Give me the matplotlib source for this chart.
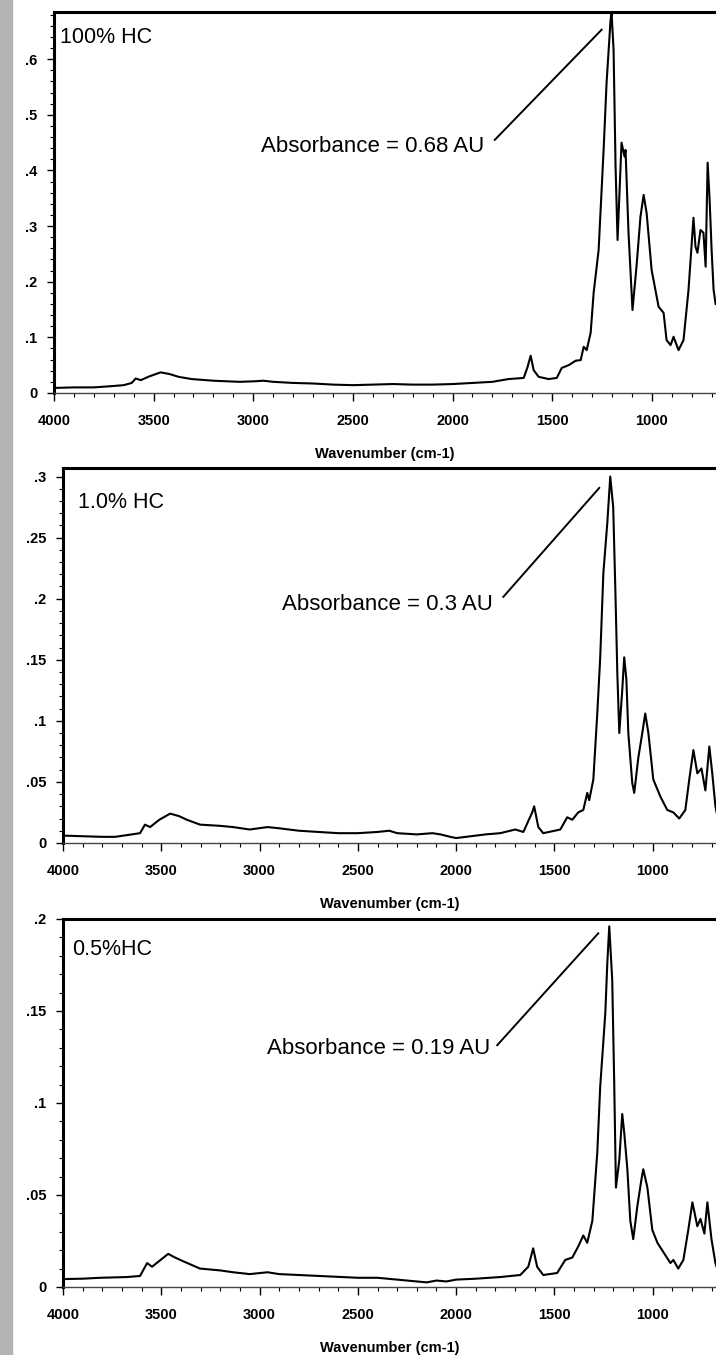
import matplotlib
matplotlib.use("Agg")
import matplotlib.pyplot as plt
from matplotlib.ticker import MultipleLocator, FuncFormatter
from matplotlib.patches import Rectangle

plt.rcParams["font.family"] = ["Liberation Sans", "DejaVu Sans"]

# ── Data ────────────────────────────────────────────────────
# (wavenumber cm-1, absorbance AU)
spec_100 = [
    (4000, .009), (3900, .010), (3800, .010), (3720, .012), (3650, .014),
    (3610, .018), (3590, .026), (3565, .023), (3520, .030), (3465, .037),
    (3420, .034), (3375, .029), (3310, .025), (3200, .022), (3070, .020),
    (2990, .021), (2950, .022), (2900, .020), (2800, .018), (2700, .017),
    (2600, .015), (2500, .014), (2400, .015), (2300, .016), (2200, .015),
    (2100, .015), (2000, .016), (1900, .018), (1800, .020), (1768, .022),
    (1718, .025), (1643, .027), (1625, .045), (1608, .067), (1593, .041),
    (1568, .029), (1518, .025), (1477, .027), (1452, .045), (1417, .050),
    (1382, .058), (1357, .059), (1342, .083), (1327, .077), (1307, .108),
    (1292, .180), (1267, .257), (1242, .437), (1227, .558), (1207, .671),
    (1202, .683), (1192, .617), (1182, .407), (1172, .275), (1157, .407),
    (1152, .450), (1137, .425), (1132, .437), (1117, .288), (1097, .149),
    (1077, .227), (1057, .317), (1041, .356), (1026, .323), (1001, .221),
    (966, .155), (941, .144), (926, .095), (906, .086), (891, .101),
    (866, .077), (841, .095), (816, .185), (801, .263), (791, .315),
    (781, .263), (771, .252), (756, .293), (741, .288), (730, .227),
    (720, .414), (710, .347), (700, .257), (690, .185), (680, .160),
]

spec_10 = [
    (4000, .006), (3900, .0055), (3800, .005), (3735, .005), (3650, .007),
    (3608, .008), (3583, .015), (3557, .013), (3510, .019), (3455, .024),
    (3410, .022), (3370, .019), (3303, .015), (3200, .014), (3135, .013),
    (3050, .011), (2960, .013), (2900, .012), (2800, .010), (2700, .009),
    (2600, .008), (2500, .008), (2400, .009), (2340, .010), (2300, .008),
    (2200, .007), (2120, .008), (2080, .007), (2030, .005), (2000, .004),
    (1950, .005), (1900, .006), (1850, .007), (1776, .008), (1699, .011),
    (1658, .009), (1613, .025), (1603, .030), (1582, .013), (1557, .008),
    (1470, .011), (1435, .021), (1409, .019), (1379, .025), (1353, .027),
    (1333, .041), (1323, .035), (1302, .052), (1282, .106), (1267, .152),
    (1251, .221), (1231, .262), (1216, .300), (1201, .275), (1190, .207),
    (1180, .139), (1170, .090), (1155, .125), (1145, .152), (1134, .134),
    (1124, .090), (1104, .049), (1094, .041), (1073, .070), (1053, .090),
    (1038, .106), (1022, .090), (997, .052), (961, .038), (926, .027),
    (895, .025), (865, .020), (834, .027), (814, .052), (793, .076),
    (773, .057), (752, .061), (732, .043), (712, .079), (697, .057),
    (681, .030), (675, .025),
]

spec_05 = [
    (4000, .0043), (3900, .0045), (3812, .005), (3674, .0054), (3608, .006),
    (3572, .013), (3547, .011), (3500, .015), (3465, .018), (3430, .016),
    (3389, .014), (3303, .010), (3200, .009), (3135, .008), (3050, .007),
    (2960, .008), (2900, .007), (2800, .0065), (2700, .006), (2600, .0055),
    (2500, .005), (2400, .005), (2300, .004), (2200, .003), (2150, .0025),
    (2100, .0035), (2050, .003), (2000, .004), (1900, .0045), (1776, .0054),
    (1674, .0065), (1633, .011), (1608, .021), (1588, .011), (1557, .0065),
    (1486, .0076), (1445, .0147), (1409, .016), (1379, .022), (1353, .028),
    (1333, .024), (1307, .036), (1282, .073), (1267, .109), (1241, .149),
    (1231, .176), (1221, .196), (1206, .167), (1196, .112), (1187, .054),
    (1170, .069), (1155, .094), (1145, .084), (1129, .064), (1114, .036),
    (1099, .026), (1078, .044), (1058, .058), (1048, .064), (1027, .054),
    (1002, .031), (976, .024), (946, .019), (910, .013), (895, .0147),
    (870, .010), (844, .0147), (819, .031), (798, .046), (773, .033),
    (757, .037), (737, .029), (722, .046), (701, .026), (681, .013),
    (675, .011),
]

sample_labels = ["100% HC", "1.0% HC", "0.5%HC"]
peak_texts = ["Absorbance = 0.68 AU", "Absorbance = 0.3 AU", "Absorbance = 0.19 AU"]
y_tops = [0.685, 0.307, 0.2]
y_majors = [0.1, 0.05, 0.05]
y_minors = [0.02, 0.01, 0.01]
# annotation leader lines: (low wn, low A) -> (high wn, high A), text anchor
leader_lines = [((1788, .455), (1252, .653)),
                ((1760, .2015), (1272, .2907)),
                ((1791, .1314), (1277, .1922))]
text_anchors = [(1839, .443), (1811, .195), (1827, .1295)]
x_ticks = [4000, 3500, 3000, 2500, 2000, 1500, 1000]

# axes rectangles (figure fraction): left, bottom, width, height
AX_RECTS = [(0.0754, 0.710, 0.9246, 0.2812),
            (0.0880, 0.3779, 0.9120, 0.2767),
            (0.0880, 0.0502, 0.9120, 0.2716)]
LABEL_POS = [(0.009, 0.934), (0.023, 0.909), (0.014, 0.916)]


def yfmt(v, _):
    if abs(v) < 1e-9:
        return "0"
    s = f"{v:.2f}".rstrip("0")
    return s[1:] if s.startswith("0") else s


fig = plt.figure(figsize=(7.16, 13.55), dpi=100)
# grey scanned strip down the left edge
fig.patches.append(Rectangle((0, 0), 0.017, 1, transform=fig.transFigure,
                             color="#b4b4b4", zorder=0))

for i, spec in enumerate([spec_100, spec_10, spec_05]):
    ax = fig.add_axes(AX_RECTS[i])
    wn = [p[0] for p in spec]
    ab = [p[1] for p in spec]
    ax.plot(wn, ab, color="black", lw=1.5)

    ax.set_xlim(4000, 678)
    ax.set_ylim(0, y_tops[i])
    ax.set_xticks(x_ticks)
    ax.xaxis.set_minor_locator(MultipleLocator(100))
    ax.yaxis.set_major_locator(MultipleLocator(y_majors[i]))
    ax.yaxis.set_minor_locator(MultipleLocator(y_minors[i]))
    ax.yaxis.set_major_formatter(FuncFormatter(yfmt))

    for lab in ax.get_xticklabels() + ax.get_yticklabels():
        lab.set_fontweight("bold")
        lab.set_fontsize(10.5)
    ax.tick_params(axis="x", which="major", direction="out", length=6, width=1, pad=9)
    ax.tick_params(axis="x", which="minor", direction="out", length=3, width=0.8)
    ax.tick_params(axis="y", which="major", direction="out", length=5, width=1, pad=7)
    ax.tick_params(axis="y", which="minor", direction="out", length=3, width=0.8)

    ax.set_xlabel("Wavenumber (cm-1)", fontsize=10.5, fontweight="bold", labelpad=14)

    ax.spines["right"].set_visible(False)
    ax.spines["top"].set_linewidth(2.2)
    ax.spines["left"].set_linewidth(2.2)
    ax.spines["bottom"].set_linewidth(1.0)
    ax.spines["bottom"].set_color("#444444")

    ax.text(*LABEL_POS[i], sample_labels[i], transform=ax.transAxes,
            fontsize=15.5, ha="left", va="center")
    (x0, y0), (x1, y1) = leader_lines[i]
    ax.plot([x0, x1], [y0, y1], color="black", lw=1.4)
    ax.text(*text_anchors[i], peak_texts[i], fontsize=16, ha="right", va="center")

fig.savefig("out.png", dpi=100)
